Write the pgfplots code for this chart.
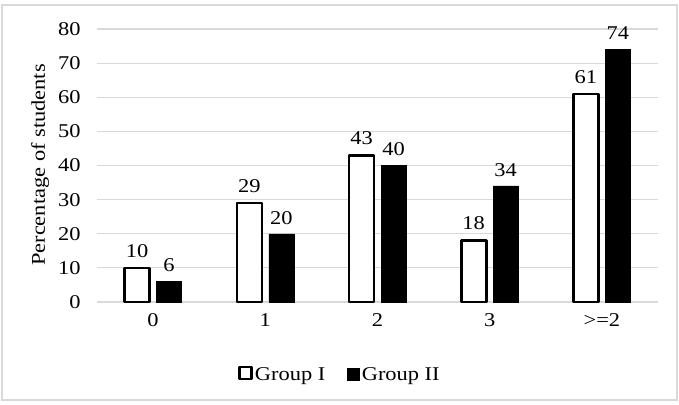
\documentclass[border=0pt]{standalone}
\usepackage{fontspec}
\setmainfont{Liberation Serif}[FakeStretch=1.15]
\usepackage{pgfplots}
\pgfplotsset{compat=1.18}
\newcommand\chartfont{\fontsize{19.5}{22}\selectfont}
\begin{document}
\begin{tikzpicture}
\useasboundingbox (-97pt,-102pt) rectangle (582pt,302pt);
% chart area frame
\draw[black!15, line width=1.2pt] (-95pt,-98pt) rectangle (580pt,297pt);
\begin{axis}[
  at={(0pt,0pt)}, anchor=south west,
  width=561pt, height=273pt, scale only axis,
  ymin=0, ymax=80, ytick={0,10,...,80},
  xmin=-0.5, xmax=4.5, xtick={0,1,2,3,4},
  xticklabels={0,1,2,3,{>=2}},
  axis line style={draw=none},
  major tick length=0pt,
  ymajorgrids, grid style={black!15, line width=1.2pt},
  tick label style={font=\chartfont},
  yticklabel style={xshift=-13pt},
  xticklabel style={yshift=-8pt},
  /pgf/number format/assume math mode=true,
  ybar=7pt, bar width=25pt,
  nodes near coords,
  every node near coord/.append style={font=\chartfont, yshift=6pt, black},
  legend columns=2,
  legend style={at={(axis description cs:0.433,-0.267)}, anchor=center, draw=none,
    font=\chartfont, /tikz/every even column/.append style={column sep=20pt}},
  legend image code/.code={\draw[#1, line width=0.5pt] (1pt,-5pt) rectangle (13pt,7pt);},
]
\addplot[fill=white, draw=black, line width=2.6pt, line join=round,
  legend image code/.code={\draw[fill=white, draw=black, line width=2.8pt] (1pt,-4pt) rectangle (13pt,8pt);}]
  coordinates {(0,10) (1,29) (2,43) (3,18) (4,61)};
\addplot[fill=black, draw=black, line width=0.4pt]
  coordinates {(0,6) (1,20) (2,40) (3,34) (4,74)};
\legend{Group I, Group II}
\end{axis}
\node[rotate=90, font=\chartfont] at (-57pt,137pt) {Percentage of students};
\end{tikzpicture}
\end{document}
